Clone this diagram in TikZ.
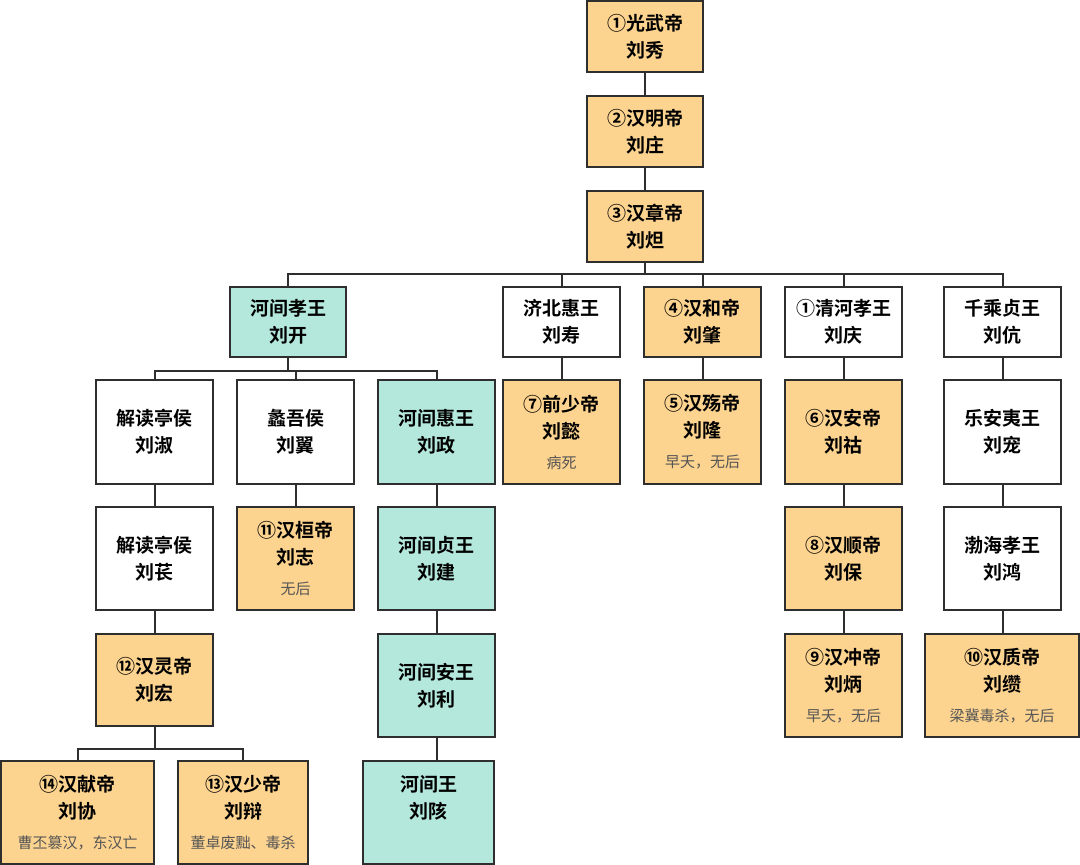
\documentclass[tikz,border=0pt]{standalone}
\usepackage{fontspec}
\setmainfont{Noto Sans CJK SC}[BoldFont={Noto Sans CJK SC Bold}]
\begin{document}
\definecolor{orng}{HTML}{FCD38F}
\definecolor{teal}{HTML}{B4E8DC}
\definecolor{ln}{HTML}{2E2E2E}
\definecolor{nt}{HTML}{555555}
\tikzset{
  bx/.style={draw=ln,line width=2pt,align=center,inner sep=0pt,font=\fontsize{19}{27}\selectfont\bfseries},
  o/.style={bx,fill=orng}, t/.style={bx,fill=teal}, w/.style={bx,fill=white},
  cn/.style={draw=ln,line width=2pt}
}
\newcommand{\nt}[1]{\\[3pt]{\fontsize{15}{18}\selectfont\mdseries\color{nt}#1}}
% \bxx{name}{style}{x1}{y1}{x2}{y2}{text}
\newcommand{\bxx}[7]{\node[#2,minimum width={#5-#3},minimum height={#6-#4}] (#1) at ({(#3+#5)/2},{(#4+#6)/2}) {#7};}
\begin{tikzpicture}[x=1pt,y=-1pt]
\useasboundingbox[fill=white] (0,0) rectangle (1080,865);
\bxx{gw}{o}{587}{1}{703}{72}{①光武帝\\刘秀}
\bxx{mg}{o}{587}{96}{703}{167}{②汉明帝\\刘庄}
\bxx{zd}{o}{587}{191}{703}{262}{③汉章帝\\刘炟}
% row 2
\bxx{lk}{t}{230}{287}{346}{357}{河间孝王\\刘开}
\bxx{ls}{w}{503}{287}{620}{357}{济北惠王\\刘寿}
\bxx{hd}{o}{644}{287}{761}{357}{④汉和帝\\刘肇}
\bxx{lq}{w}{785}{287}{902}{357}{①清河孝王\\刘庆}
\bxx{lkang}{w}{944}{287}{1061}{357}{千乘贞王\\刘伉}
% row 3
\bxx{lsu}{w}{96}{380}{213}{484}{解读亭侯\\刘淑}
\bxx{lyi}{w}{237}{380}{354}{484}{蠡吾侯\\刘翼}
\bxx{lz}{t}{378}{380}{495}{484}{河间惠王\\刘政}
\bxx{qs}{o}{503}{380}{620}{484}{⑦前少帝\\刘懿\nt{病死}}
\bxx{sd}{o}{644}{380}{761}{484}{⑤汉殇帝\\刘隆\nt{早夭，无后}}
\bxx{ad}{o}{785}{380}{902}{484}{⑥汉安帝\\刘祜}
\bxx{lc}{w}{944}{380}{1061}{484}{乐安夷王\\刘宠}
% row 4
\bxx{lch}{w}{96}{507}{213}{610}{解读亭侯\\刘苌}
\bxx{hdi}{o}{237}{507}{354}{610}{⑪汉桓帝\\刘志\nt{无后}}
\bxx{lj}{t}{378}{507}{495}{610}{河间贞王\\刘建}
\bxx{shd}{o}{785}{507}{902}{610}{⑧汉顺帝\\刘保}
\bxx{lh}{w}{944}{507}{1061}{610}{渤海孝王\\刘鸿}
% row 5
\bxx{ld}{o}{96}{634}{213}{726}{⑫汉灵帝\\刘宏}
\bxx{ll}{t}{378}{634}{495}{737}{河间安王\\刘利}
\bxx{cd}{o}{785}{634}{902}{737}{⑨汉冲帝\\刘炳\nt{早夭，无后}}
\bxx{zhd}{o}{925}{634}{1079}{737}{⑩汉质帝\\刘缵\nt{梁冀毒杀，无后}}
% row 6
\bxx{xd}{o}{1}{761}{154}{864}{⑭汉献帝\\刘协\nt{曹丕篡汉，东汉亡}}
\bxx{sdd}{o}{178}{761}{308}{864}{⑬汉少帝\\刘辩\nt{董卓废黜、毒杀}}
\bxx{lg}{t}{363}{761}{494}{864}{河间王\\刘陔\nt{\phantom{曹}}}
% junctions
\path (zd.south) ++(0,11) coordinate (j1);
\path (lk.south) ++(0,13) coordinate (j2);
\path (ld.south) ++(0,22) coordinate (j3);
\draw[cn] (gw) -- (mg);
\draw[cn] (mg) -- (zd);
\draw[cn] (zd.south) -- (j1);
\foreach \c in {lk,ls,hd,lq,lkang} \draw[cn] (\c.north) |- (j1);
\draw[cn] (lk.south) -- (j2);
\foreach \c in {lsu,lyi,lz} \draw[cn] (\c.north) |- (j2);
\draw[cn] (ls) -- (qs);
\draw[cn] (hd) -- (sd);
\draw[cn] (lq) -- (ad);
\draw[cn] (lkang) -- (lc);
\draw[cn] (lsu) -- (lch);
\draw[cn] (lyi) -- (hdi);
\draw[cn] (lz) -- (lj);
\draw[cn] (ad) -- (shd);
\draw[cn] (lc) -- (lh);
\draw[cn] (lch) -- (ld);
\draw[cn] (lj) -- (ll);
\draw[cn] (shd) -- (cd);
\draw[cn] (lh.south) -- (lh.south|-zhd.north);
\draw[cn] (ll) -- (lg.north-|ll.south);
\draw[cn] (ld.south) -- (j3);
\foreach \c in {xd,sdd} \draw[cn] (\c.north) |- (j3);
\end{tikzpicture}
\end{document}
